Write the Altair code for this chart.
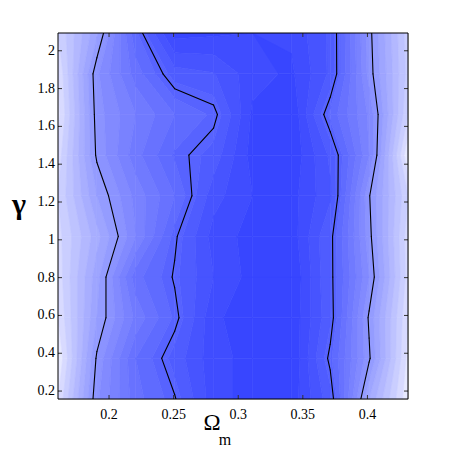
import altair as alt
import pandas as pd

# ---- data ----
omega = [0.1605, 0.1906, 0.2207, 0.2508, 0.2809, 0.3110, 0.3411, 0.3712, 0.4013, 0.4314]
gamma = [0.158, 0.373, 0.588, 0.803, 1.018, 1.233, 1.448, 1.663, 1.878, 2.094]

row_g0 = [0.10, 0.489, 0.68, 0.775, 0.93, 0.97, 0.98, 0.82, 0.35, 0.06]
row_g1 = [0.05, 0.46, 0.70, 0.82, 0.93, 0.97, 1.00, 0.764, 0.46, 0.08]
row_g2 = [0.10, 0.40, 0.614, 0.76, 0.94, 0.98, 0.99, 0.81, 0.44, 0.10]
row_g3 = [0.12, 0.38, 0.68, 0.787, 0.90, 0.97, 1.00, 0.80, 0.50, 0.125]
row_g4 = [0.13, 0.33, 0.548, 0.77, 0.92, 0.97, 0.98, 0.80, 0.47, 0.12]
row_g5 = [0.15, 0.40, 0.567, 0.70, 0.88, 0.95, 0.97, 0.86, 0.455, 0.15]
row_g6 = [0.12, 0.461, 0.63, 0.757, 0.82, 0.97, 0.99, 0.84, 0.55, 0.05]
row_g7 = [0.08, 0.476, 0.60, 0.70, 0.76, 0.96, 1.00, 0.736, 0.54, 0.15]
row_g8 = [0.10, 0.489, 0.673, 0.826, 0.846, 0.93, 0.96, 0.84, 0.48, 0.18]
row_g9 = [0.15, 0.39, 0.74, 0.97, 0.96, 0.95, 0.94, 0.84, 0.47, 0.17]

fill_levels = [0.00, 0.05, 0.10, 0.15, 0.20, 0.25, 0.30, 0.35, 0.40, 0.45, 0.50,
               0.55, 0.60, 0.65, 0.70, 0.75, 0.80, 0.85, 0.90, 0.95, 1.05]
line_levels = [0.45, 0.78]

x_ticks = [0.2, 0.25, 0.3, 0.35, 0.4]
x_labels = ["0.2", "0.25", "0.3", "0.35", "0.4"]
y_ticks = [0.2, 0.4, 0.6, 0.8, 1.0, 1.2, 1.4, 1.6, 1.8, 2.0]
y_labels = ["0.2", "0.4", "0.6", "0.8", "1", "1.2", "1.4", "1.6", "1.8", "2"]

grid = [row_g0, row_g1, row_g2, row_g3, row_g4, row_g5, row_g6, row_g7, row_g8, row_g9]

# ---- geometry (marching squares via polygon clipping) ----
W, H = 350, 366


def clip(poly, f):
    out = []
    n = len(poly)
    for i in range(n):
        P = poly[i]
        Q = poly[(i + 1) % n]
        fp, fq = f(P[2]), f(Q[2])
        if fp >= 0:
            out.append(P)
        if (fp >= 0) != (fq >= 0):
            t = fp / (fp - fq)
            out.append((P[0] + t * (Q[0] - P[0]), P[1] + t * (Q[1] - P[1]),
                        P[2] + t * (Q[2] - P[2]), True))
    return out


n_bands = len(fill_levels) - 1
poly_rows = []
seg_rows = []
pid = 0
for j in range(len(gamma) - 1):
    for i in range(len(omega) - 1):
        cell = [(omega[i], gamma[j], grid[j][i], False),
                (omega[i + 1], gamma[j], grid[j][i + 1], False),
                (omega[i + 1], gamma[j + 1], grid[j + 1][i + 1], False),
                (omega[i], gamma[j + 1], grid[j + 1][i], False)]
        for k in range(n_bands):
            a, b = fill_levels[k], fill_levels[k + 1]
            p = clip(cell, lambda z, a=a: z - a)
            if len(p) < 3:
                continue
            p = clip(p, lambda z, b=b: b - z)
            if len(p) < 3:
                continue
            for o, v in enumerate(p + [p[0]]):
                poly_rows.append({"pid": pid, "band": k, "o": o, "om": v[0], "ga": v[1]})
            pid += 1
        for L in line_levels:
            p = clip(cell, lambda z, L=L: z - L)
            m = len(p)
            for q in range(m):
                A, B = p[q], p[(q + 1) % m]
                if A[3] and B[3]:
                    seg_rows.append({"x1": A[0], "y1": A[1], "x2": B[0], "y2": B[1]})

poly_df = pd.DataFrame(poly_rows)
seg_df = pd.DataFrame(seg_rows)


def band_color(k):
    t = (k / (n_bands - 1)) ** 0.72
    r = round(255 + t * (56 - 255))
    g = round(255 + t * (70 - 255))
    return "#%02x%02x%02x" % (r, g, 255)


band_colors = [band_color(k) for k in range(n_bands)]

xs = alt.Scale(domain=[omega[0], omega[-1]], nice=False, zero=False)
ys = alt.Scale(domain=[gamma[0], gamma[-1]], nice=False, zero=False)
cs = alt.Scale(domain=list(range(n_bands)), range=band_colors)

font = "Liberation Serif, Times New Roman, serif"

fills = alt.Chart(poly_df).mark_line(strokeWidth=0.6, strokeJoin="round", clip=True).encode(
    x=alt.X("om:Q", scale=xs, axis=None),
    y=alt.Y("ga:Q", scale=ys, axis=None),
    detail="pid:N",
    order="o:Q",
    color=alt.Color("band:O", scale=cs, legend=None),
    fill=alt.Fill("band:O", scale=cs, legend=None),
)

lines = alt.Chart(seg_df).mark_rule(color="black", strokeWidth=1.1, strokeCap="round", clip=True).encode(
    x=alt.X("x1:Q", scale=xs, axis=None),
    y=alt.Y("y1:Q", scale=ys, axis=None),
    x2="x2:Q",
    y2="y2:Q",
)

xt_df = pd.DataFrame({"v": x_ticks, "lab": x_labels})
yt_df = pd.DataFrame({"v": y_ticks, "lab": y_labels})
tick_style = dict(color="#333333", strokeWidth=1)
xt_bot = alt.Chart(xt_df).mark_rule(**tick_style).encode(
    x=alt.X("v:Q", scale=xs, axis=None), y=alt.value(H), y2=alt.value(H - 4))
xt_top = alt.Chart(xt_df).mark_rule(**tick_style).encode(
    x=alt.X("v:Q", scale=xs, axis=None), y=alt.value(0), y2=alt.value(4))
yt_left = alt.Chart(yt_df).mark_rule(**tick_style).encode(
    y=alt.Y("v:Q", scale=ys, axis=None), x=alt.value(0), x2=alt.value(4))
yt_right = alt.Chart(yt_df).mark_rule(**tick_style).encode(
    y=alt.Y("v:Q", scale=ys, axis=None), x=alt.value(W), x2=alt.value(W - 4))

x_lab = alt.Chart(xt_df).mark_text(font=font, fontSize=14, color="black", baseline="middle",
                                   align="center").encode(
    x=alt.X("v:Q", scale=xs, axis=None), y=alt.value(H + 16), text="lab:N")
y_lab = alt.Chart(yt_df).mark_text(font=font, fontSize=14, color="black", baseline="middle",
                                   align="right").encode(
    y=alt.Y("v:Q", scale=ys, axis=None), x=alt.value(-3), text="lab:N")

dummy = pd.DataFrame({"d": [0]})
frame = alt.Chart(dummy).mark_rect(fill="transparent", stroke="black", strokeWidth=1).encode(
    x=alt.value(0), x2=alt.value(W), y=alt.value(0), y2=alt.value(H))

t_gamma = alt.Chart(dummy).mark_text(text="γ", font=font, fontSize=30, fontWeight="bold").encode(
    x=alt.value(-39), y=alt.value(172))
t_omega = alt.Chart(dummy).mark_text(text="Ω", font=font, fontSize=23).encode(
    x=alt.value(154), y=alt.value(390))
t_m = alt.Chart(dummy).mark_text(text="m", font=font, fontSize=16, baseline="alphabetic").encode(
    x=alt.value(167), y=alt.value(412))

chart = alt.layer(fills, lines, xt_bot, xt_top, yt_left, yt_right, x_lab, y_lab, frame,
                  t_gamma, t_omega, t_m).properties(
    width=W, height=H,
    autosize=alt.AutoSizeParams(type="none"),
    padding={"left": 50, "top": 25, "right": 34, "bottom": 50},
).configure_view(strokeWidth=0).configure(background="white")

chart.save("out.html", embed_options={"renderer": "svg", "actions": False})
